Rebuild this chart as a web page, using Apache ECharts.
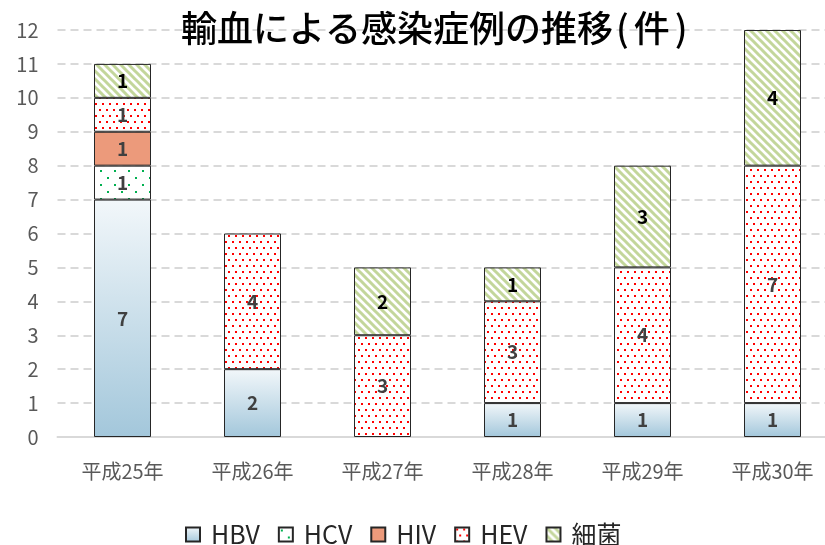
<!DOCTYPE html>
<html>
<head>
<meta charset="utf-8">
<script src="https://cdn.jsdelivr.net/npm/echarts@6/dist/echarts.min.js"></script>
<style>
  html, body { margin: 0; padding: 0; background: #fff; }
  #main { width: 825px; height: 545px; }
</style>
</head>
<body>
<div id="main"></div>
<script>
// データ
var categories = ['平成25年', '平成26年', '平成27年', '平成28年', '平成29年', '平成30年'];
var seriesNames = ['HBV', 'HCV', 'HIV', 'HEV', '細菌'];
var hbv = [7, 2, 0, 1, 1, 1];
var hcv = [1, 0, 0, 0, 0, 0];
var hiv = [1, 0, 0, 0, 0, 0];
var hev = [1, 4, 3, 3, 4, 7];
var saikin = [1, 0, 2, 1, 3, 4];
var yTicks = [0, 1, 2, 3, 4, 5, 6, 7, 8, 9, 10, 11, 12];

var FONT = '"Noto Sans CJK JP", "Noto Sans", sans-serif';

// 模様（ドット・斜線）を canvas で作る
function dotPattern(w, h, dots, color, size) {
    var c = document.createElement('canvas');
    c.width = w; c.height = h;
    var ctx = c.getContext('2d');
    ctx.fillStyle = '#fff';
    ctx.fillRect(0, 0, w, h);
    ctx.fillStyle = color;
    dots.forEach(function (d) { ctx.fillRect(d[0], d[1], size, size); });
    return {image: c, repeat: 'repeat'};
}

function stripePattern() {
    var s = 8;
    var c = document.createElement('canvas');
    c.width = s; c.height = s;
    var ctx = c.getContext('2d');
    ctx.fillStyle = '#fff';
    ctx.fillRect(0, 0, s, s);
    ctx.strokeStyle = '#c3d69b';
    ctx.lineWidth = 3;
    ctx.beginPath();
    ctx.moveTo(-s, 0); ctx.lineTo(s * 2, s * 3);
    ctx.moveTo(-s, -s); ctx.lineTo(s * 2, s * 2);
    ctx.moveTo(0, -s); ctx.lineTo(s * 2, s);
    ctx.moveTo(-s * 2, -s); ctx.lineTo(s, s * 2);
    ctx.stroke();
    return {image: c, repeat: 'repeat'};
}

var hbvColor = new echarts.graphic.LinearGradient(0, 0, 0, 1, [
    {offset: 0, color: '#f2f7fa'},
    {offset: 1, color: '#a3c7db'}
]);
var hcvColor = dotPattern(14, 14, [[2, 2], [9, 9]], '#00b050', 2);
var hivColor = '#ec9a7b';
var hevColor = dotPattern(7, 12, [[1, 1], [4, 7]], '#ff0000', 2);
var saikinColor = stripePattern();

var values = [hbv, hcv, hiv, hev, saikin];
var colors = [hbvColor, hcvColor, hivColor, hevColor, saikinColor];
var labelColors = ['#404040', '#404040', '#404040', '#404040', '#000'];

var series = seriesNames.map(function (name, i) {
    return {
        name: name,
        type: 'bar',
        stack: 'total',
        barWidth: 57,
        itemStyle: {color: colors[i], borderColor: '#262626', borderWidth: 1},
        label: {
            show: true,
            position: 'inside',
            color: labelColors[i],
            fontFamily: FONT,
            fontSize: 19,
            fontWeight: 'bold'
        },
        data: values[i].map(function (v) { return v === 0 ? null : v; })
    };
});

var myChart = echarts.init(document.getElementById('main'));
myChart.setOption({
    animation: false,
    title: {
        text: '{a|輸血による感染症例の推移}{p|(}{a|件}{q|)}',
        left: 176,
        top: 5,
        textStyle: {
            fontFamily: FONT, fontSize: 36, fontWeight: 500, color: '#000',
            rich: {
                a: {fontFamily: FONT, fontSize: 36, fontWeight: 500, color: '#000'},
                p: {fontFamily: FONT, fontSize: 36, fontWeight: 500, color: '#000', padding: [0, 5, 0, 3]},
                q: {fontFamily: FONT, fontSize: 36, fontWeight: 500, color: '#000', padding: [0, 0, 0, 5]}
            }
        }
    },
    legend: {
        data: seriesNames,
        top: 517,
        left: 180,
        itemWidth: 14,
        itemHeight: 14,
        itemGap: 18,
        icon: 'rect',
        textStyle: {fontFamily: FONT, fontSize: 25, color: '#262626', padding: [0, 0, 0, 6]}
    },
    grid: {left: 57.5, width: 780, top: 30, bottom: 108, outerBoundsMode: 'none'},
    xAxis: {
        type: 'category',
        data: categories,
        axisTick: {show: false},
        axisLine: {lineStyle: {color: '#d9d9d9', width: 2}},
        axisLabel: {fontFamily: FONT, fontSize: 20, color: '#595959', margin: 24}
    },
    yAxis: {
        type: 'value',
        min: yTicks[0],
        max: yTicks[yTicks.length - 1],
        interval: 1,
        axisLabel: {fontFamily: FONT, fontSize: 20, color: '#595959', margin: 19},
        splitLine: {lineStyle: {color: '#d9d9d9', width: 2, type: [8, 5]}}
    },
    series: series
});
</script>
</body>
</html>
